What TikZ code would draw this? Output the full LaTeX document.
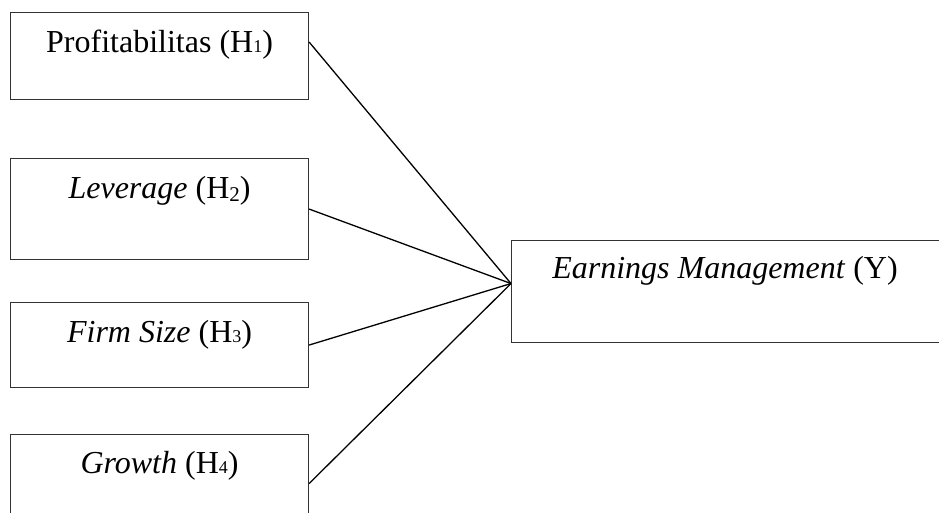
\documentclass[tikz,border=0pt]{standalone}
\usepackage{fontspec}
\setmainfont{Liberation Serif}
\usetikzlibrary{calc}
\newcommand{\lowsub}[1]{\raisebox{-0.25ex}{\fontsize{21}{21}\selectfont #1}}
\newcommand{\smallsub}[1]{{\fontsize{18}{18}\selectfont #1}}
\begin{document}
\begin{tikzpicture}[x=1pt,y=-1pt,
  box/.style={draw=black!80,line width=1.1pt,rectangle,inner sep=0pt,anchor=north west},
  lbl/.style={anchor=base,inner sep=0pt,font=\fontsize{32}{33}\selectfont},
  link/.style={draw=black,line width=1.3pt}]
\useasboundingbox (0,0) rectangle (939,512);
\node[box,minimum width=298pt,minimum height=87pt] (b1) at (10,12) {};
\node[box,minimum width=298pt,minimum height=101pt] (b2) at (10,158) {};
\node[box,minimum width=298pt,minimum height=85pt] (b3) at (10,302) {};
\node[box,minimum width=298pt,minimum height=98pt] (b4) at (10,434) {};
\node[box,minimum width=430pt,minimum height=102pt] (y) at (511,240) {};
\node[lbl] (t1) at ($(b1.north)+(0,40)$) {Profitabilitas (H\smallsub{1})};
\node[lbl] (t2) at ($(b2.north)+(0,40)$) {\textit{Leverage} (H\lowsub{2})};
\node[lbl] (t3) at ($(b3.north)+(0,40)$) {\textit{Firm Size} (H\smallsub{3})};
\node[lbl] (t4) at ($(b4.north)+(0,39)$) {\textit{Growth} (H\smallsub{4})};
\node[lbl] (ty) at (725,278) {\textit{Earnings Management} (Y)};
\coordinate (hub) at ($(y.west)+(0,-8)$);
\draw[link] ($(b1.north east)+(0,30)$) -- (hub);
\draw[link] (b2.east) -- (hub);
\draw[link] (b3.east) -- (hub);
\draw[link] (b4.east) -- (hub);
\end{tikzpicture}
\end{document}
